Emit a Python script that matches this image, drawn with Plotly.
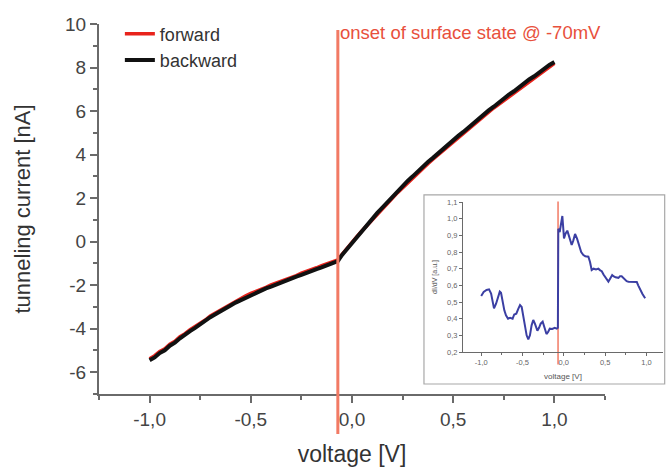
import plotly.graph_objects as go

# I(V) sweep, bias voltage [V]
voltage = [-1.000, -0.975, -0.950, -0.925, -0.900, -0.875, -0.850, -0.825, -0.800, -0.775,
           -0.750, -0.725, -0.700, -0.675, -0.650, -0.625, -0.600, -0.575, -0.550, -0.525,
           -0.500, -0.475, -0.450, -0.425, -0.400, -0.375, -0.350, -0.325, -0.300, -0.275,
           -0.250, -0.225, -0.200, -0.175, -0.150, -0.125, -0.100, -0.070, -0.050, -0.025,
           0.000, 0.025, 0.050, 0.075, 0.100, 0.125, 0.150, 0.175, 0.200, 0.225,
           0.250, 0.275, 0.300, 0.325, 0.350, 0.375, 0.400, 0.425, 0.450, 0.475,
           0.500, 0.525, 0.550, 0.575, 0.600, 0.625, 0.650, 0.675, 0.700, 0.725,
           0.750, 0.775, 0.800, 0.825, 0.850, 0.875, 0.900, 0.925, 0.950, 0.975,
           1.000]
# tunneling current [nA]
current_forward = [-5.38, -5.24, -5.04, -4.92, -4.71, -4.58, -4.37, -4.23, -4.04, -3.90,
                   -3.72, -3.60, -3.41, -3.28, -3.13, -2.98, -2.86, -2.72, -2.62, -2.49,
                   -2.38, -2.30, -2.18, -2.10, -1.99, -1.91, -1.81, -1.73, -1.63, -1.56,
                   -1.45, -1.38, -1.27, -1.20, -1.10, -1.03, -0.93, -0.84, -0.60, -0.30,
                   -0.04, 0.24, 0.50, 0.76, 1.01, 1.27, 1.52, 1.76, 2.00, 2.25,
                   2.48, 2.71, 2.94, 3.15, 3.37, 3.58, 3.79, 3.99, 4.19, 4.40,
                   4.59, 4.79, 4.98, 5.18, 5.37, 5.57, 5.76, 5.95, 6.14, 6.31,
                   6.50, 6.66, 6.85, 7.02, 7.20, 7.36, 7.54, 7.69, 7.87, 8.01,
                   8.19]
current_backward = [-5.45, -5.32, -5.12, -4.99, -4.78, -4.64, -4.44, -4.30, -4.11, -3.96,
                    -3.79, -3.65, -3.47, -3.34, -3.19, -3.05, -2.93, -2.80, -2.69, -2.56,
                    -2.46, -2.35, -2.26, -2.15, -2.07, -1.97, -1.89, -1.79, -1.71, -1.61,
                    -1.53, -1.43, -1.35, -1.26, -1.18, -1.08, -1.00, -0.89, -0.62, -0.34,
                    -0.06, 0.24, 0.52, 0.80, 1.05, 1.32, 1.56, 1.82, 2.06, 2.32,
                    2.54, 2.79, 3.00, 3.23, 3.43, 3.66, 3.85, 4.06, 4.25, 4.46,
                    4.65, 4.86, 5.04, 5.25, 5.43, 5.64, 5.82, 6.03, 6.20, 6.40,
                    6.56, 6.76, 6.91, 7.10, 7.26, 7.45, 7.60, 7.79, 7.93, 8.12,
                    8.25]

# differential conductance (inset)
didv_voltage = [-1.00, -0.97, -0.935, -0.905, -0.88, -0.86, -0.845, -0.82, -0.80, -0.775,
                -0.76, -0.74, -0.72, -0.70, -0.675, -0.65, -0.62, -0.60, -0.575, -0.55,
                -0.53, -0.51, -0.49, -0.47, -0.45, -0.43, -0.41, -0.39, -0.37, -0.35,
                -0.32, -0.30, -0.28, -0.256, -0.235, -0.21, -0.19, -0.17, -0.14, -0.11,
                -0.085, -0.072, -0.067, -0.05, -0.03, -0.018, -0.005, 0.002, 0.02, 0.042,
                0.06, 0.08, 0.095, 0.115, 0.136, 0.16, 0.19, 0.21, 0.236, 0.26,
                0.297, 0.317, 0.337, 0.36, 0.39, 0.418, 0.44, 0.459, 0.48, 0.507,
                0.525, 0.539, 0.56, 0.585, 0.60, 0.625, 0.661, 0.68, 0.70, 0.73,
                0.76, 0.782, 0.82, 0.86, 0.883, 0.90, 0.923, 0.95, 0.984]
didv = [0.536, 0.56, 0.572, 0.576, 0.55, 0.50, 0.462, 0.49, 0.53, 0.562,
        0.555, 0.50, 0.45, 0.42, 0.40, 0.405, 0.40, 0.425, 0.43, 0.46,
        0.482, 0.47, 0.42, 0.36, 0.30, 0.276, 0.30, 0.36, 0.392, 0.37,
        0.328, 0.345, 0.37, 0.382, 0.35, 0.308, 0.32, 0.34, 0.338, 0.345,
        0.34, 0.345, 0.94, 0.92, 0.98, 1.016, 0.93, 0.882, 0.91, 0.928,
        0.90, 0.86, 0.842, 0.87, 0.908, 0.88, 0.83, 0.80, 0.782, 0.775,
        0.772, 0.74, 0.692, 0.70, 0.695, 0.70, 0.69, 0.685, 0.665, 0.642,
        0.63, 0.622, 0.64, 0.662, 0.655, 0.648, 0.645, 0.655, 0.655, 0.64,
        0.625, 0.622, 0.62, 0.622, 0.62, 0.60, 0.572, 0.55, 0.522]

onset_voltage = -0.07
onset_label = "onset of surface state @ -70mV"

main_xticks = [-1.0, -0.5, 0.0, 0.5, 1.0]
main_xticktext = ["-1,0", "-0,5", "0,0", "0,5", "1,0"]
main_yticks = [-6, -4, -2, 0, 2, 4, 6, 8, 10]
main_yticktext = ["-6", "-4", "-2", "0", "2", "4", "6", "8", "10"]
inset_xticks = [-1.0, -0.5, 0.0, 0.5, 1.0]
inset_xticktext = ["-1,0", "-0,5", "0,0", "0,5", "1,0"]
inset_yticks = [0.2, 0.3, 0.4, 0.5, 0.6, 0.7, 0.8, 0.9, 1.0, 1.1]
inset_yticktext = ["0,2", "0,3", "0,4", "0,5", "0,6", "0,7", "0,8", "0,9", "1,0", "1,1"]

FONT = "Liberation Sans, Arial, sans-serif"
AXIS_GREY = "#6a6a6a"
TEXT_GREY = "#444444"
ONSET_LINE = "#f27a64"
ONSET_TEXT = "#e8503c"

fig = go.Figure()

fig.add_trace(go.Scatter(
    x=voltage, y=current_forward, mode="lines", name="forward",
    line=dict(color="#e8231c", width=3.5), xaxis="x", yaxis="y"))
fig.add_trace(go.Scatter(
    x=voltage, y=current_backward, mode="lines", name="backward",
    line=dict(color="#111111", width=4), xaxis="x", yaxis="y"))

fig.add_trace(go.Scatter(
    x=didv_voltage, y=didv, mode="lines", showlegend=False,
    line=dict(color="#3b3fa3", width=2), xaxis="x2", yaxis="y2"))

# surface-state onset markers
fig.add_shape(type="line", xref="x", yref="paper",
              x0=onset_voltage, x1=onset_voltage, y0=-0.108, y1=0.984,
              line=dict(color=ONSET_LINE, width=3), layer="above")
fig.add_shape(type="line", xref="x2", yref="paper",
              x0=onset_voltage, x1=onset_voltage, y0=0.08, y1=0.52,
              line=dict(color=ONSET_LINE, width=1.5), layer="below")
fig.add_annotation(text=onset_label, xref="x", yref="paper",
                   x=onset_voltage, y=0.976, xanchor="left", yanchor="middle",
                   xshift=0, showarrow=False,
                   font=dict(family=FONT, size=18.5, color=ONSET_TEXT))

# frame around the inset
fig.add_shape(type="rect", xref="paper", yref="paper",
              x0=0.5762, x1=1.003, y0=0.027, y1=0.538,
              line=dict(color="#a8a8a8", width=1.2), layer="below")

main_axis = dict(showline=True, linecolor=AXIS_GREY, linewidth=2,
                 ticks="outside", tickcolor=AXIS_GREY, tickwidth=2, ticklen=7,
                 showgrid=False, zeroline=False,
                 tickfont=dict(family=FONT, size=19, color=TEXT_GREY))
inset_axis = dict(showline=True, linecolor=AXIS_GREY, linewidth=1,
                  ticks="outside", tickcolor=AXIS_GREY, tickwidth=1, ticklen=3,
                  showgrid=False, zeroline=False,
                  tickfont=dict(family=FONT, size=7.5, color="#666666"))

fig.update_layout(
    width=666, height=467,
    margin=dict(l=99, r=3, t=24, b=73),
    paper_bgcolor="white", plot_bgcolor="rgba(0,0,0,0)",
    font=dict(family=FONT, color=TEXT_GREY),
    xaxis=dict(main_axis, domain=[0, 0.8972], range=[-1.25, 1.25],
               tickvals=main_xticks, ticktext=main_xticktext,
               minor=dict(ticks="outside", dtick=0.25, tick0=0, ticklen=4,
                          tickcolor=AXIS_GREY, tickwidth=2),
               title=dict(text="voltage [V]", standoff=18,
                          font=dict(family=FONT, size=23, color="#333333")),
               anchor="y"),
    yaxis=dict(main_axis, domain=[0, 1], range=[-7, 10],
               tickvals=main_yticks, ticktext=main_yticktext,
               minor=dict(ticks="outside", dtick=1, tick0=0, ticklen=4,
                          tickcolor=AXIS_GREY, tickwidth=2),
               title=dict(text="tunneling current [nA]", standoff=28,
                          font=dict(family=FONT, size=22, color="#333333")),
               anchor="x"),
    xaxis2=dict(inset_axis, domain=[0.6454, 1.0], range=[-1.22, 1.2],
                tickvals=inset_xticks, ticktext=inset_xticktext,
                minor=dict(ticks="outside", dtick=0.25, tick0=0, ticklen=2,
                           tickcolor=AXIS_GREY),
                title=dict(text="voltage [V]", standoff=7,
                           font=dict(family=FONT, size=8, color="#555555")),
                anchor="y2"),
    yaxis2=dict(inset_axis, domain=[0.1135, 0.5189], range=[0.2, 1.1],
                tickvals=inset_yticks, ticktext=inset_yticktext,
                title=dict(text="dI/dV [a.u.]", standoff=8,
                           font=dict(family=FONT, size=7, color="#555555")),
                anchor="x2"),
    showlegend=True,
    legend=dict(x=0.037, y=1.023, xanchor="left", yanchor="top",
                bgcolor="rgba(0,0,0,0)", tracegroupgap=0,
                font=dict(family=FONT, size=18, color="#333333"),
                itemwidth=30),
)

fig.write_html("out.html")
